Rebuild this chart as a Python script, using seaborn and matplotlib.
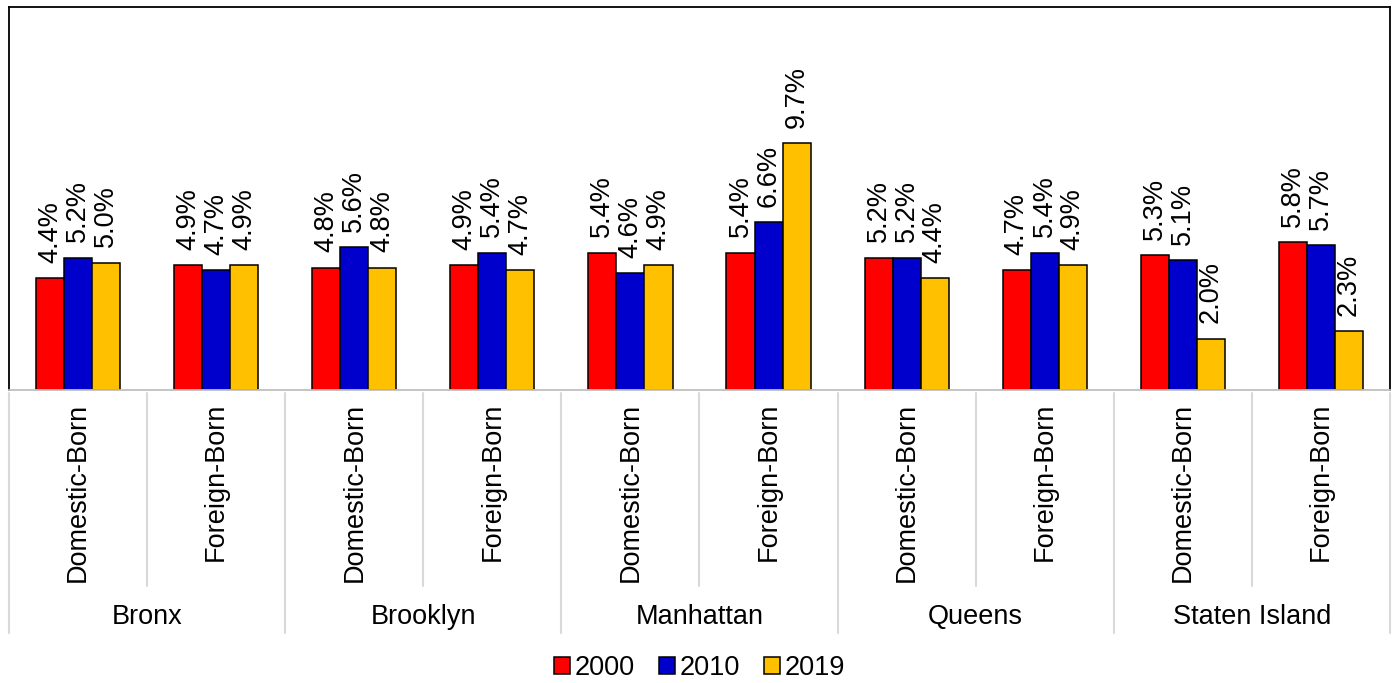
import pandas as pd
import matplotlib
matplotlib.use("Agg")
import matplotlib.pyplot as plt
import seaborn as sns

boroughs = ["Bronx", "Brooklyn", "Manhattan", "Queens", "Staten Island"]
origins = ["Domestic-Born", "Foreign-Born"]
years = ["2000", "2010", "2019"]

# one value per (borough, origin) slot, left to right
rate_2000 = [4.4, 4.9, 4.8, 4.9, 5.4, 5.4, 5.2, 4.7, 5.3, 5.8]
rate_2010 = [5.2, 4.7, 5.6, 5.4, 4.6, 6.6, 5.2, 5.4, 5.1, 5.7]
rate_2019 = [5.0, 4.9, 4.8, 4.7, 4.9, 9.7, 4.4, 4.9, 2.0, 2.3]

colors = ["#FF0000", "#0000CC", "#FFC000"]

# armar tabla larga para seaborn
slots = [f"{b}|{o}" for b in boroughs for o in origins]
rows = []
for year, vals in zip(years, [rate_2000, rate_2010, rate_2019]):
    for slot, v in zip(slots, vals):
        rows.append({"slot": slot, "year": year, "rate": v})
df = pd.DataFrame(rows)

sns.set_theme(style="white")
plt.rcParams["font.family"] = ["Liberation Sans", "DejaVu Sans"]
plt.rcParams["text.color"] = "black"
fs = 19.5

fig = plt.figure(figsize=(13.94, 6.83), dpi=100)
ax = fig.add_axes([9 / 1394, 1 - 389.5 / 683, 1381 / 1394, 383 / 683])

sns.barplot(data=df, x="slot", y="rate", hue="year", order=slots,
            hue_order=years, palette=colors, width=0.61,
            edgecolor="black", linewidth=1.1, saturation=1, ax=ax)

# etiquetas de valores giradas
for cont in ax.containers:
    ax.bar_label(cont, labels=[f"{v:.1f}%" for v in cont.datavalues],
                 rotation=90, padding=11, fontsize=fs, color="black")

ax.set_xlim(-0.5, len(slots) - 0.5)
ax.set_ylim(0, 15.1)
ax.set_xlabel("")
ax.set_ylabel("")
ax.set_xticks([])
ax.set_yticks([])
for s in ["left", "top", "right"]:
    ax.spines[s].set_color("black")
    ax.spines[s].set_linewidth(1.3)
ax.spines["bottom"].set_color("#bfbfbf")
ax.spines["bottom"].set_linewidth(1.3)

# eje x de dos niveles
tr = ax.get_xaxis_transform()
for i, slot in enumerate(slots):
    ax.text(i, -0.035, slot.split("|")[1], rotation=90, ha="center", va="top",
            fontsize=fs, color="black", transform=tr)
for j, b in enumerate(boroughs):
    ax.text(2 * j + 0.5, -0.595, b, ha="center", va="center",
            fontsize=fs, color="black", transform=tr)
for k in range(len(slots) + 1):
    x = k - 0.5
    y_end = -0.637 if k % 2 == 0 else -0.512
    ax.plot([x, x], [-0.008, y_end], color="#d9d9d9", lw=1.5,
            transform=tr, clip_on=False)

sns.move_legend(ax, "center", bbox_to_anchor=(0.5, -0.728), ncol=3,
                frameon=False, title=None, fontsize=fs, handlelength=0.6,
                handleheight=0.6, handletextpad=0.15, columnspacing=0.9,
                labelcolor="black")

fig.savefig("out.png", dpi=100)
